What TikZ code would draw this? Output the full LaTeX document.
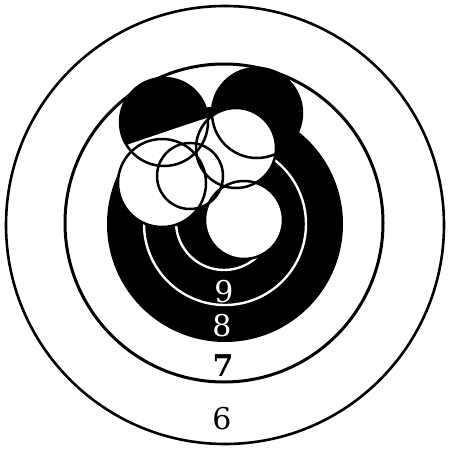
\documentclass[tikz,border=0pt]{standalone}
\usepackage{fontspec}
\setmainfont{DejaVu Serif}
\begin{document}
\begin{tikzpicture}[x=1pt,y=-1pt,
  ringline/.style={line width=2.6pt},
  holeline/.style={line width=2.5pt},
  whiteline/.style={draw=white,line width=2.4pt},
  numlab/.style={font=\fontsize{30}{32}\selectfont, inner sep=0pt}]
\useasboundingbox (0,0) rectangle (450,450);
\fill[white] (0,0) rectangle (450,450);
% rings
\draw[ringline] (225,225) circle[radius=219pt];
\draw[line width=3pt] (224,223) circle[radius=159pt];
\fill[black] (225,224) circle[radius=118pt];
\draw[whiteline] (225,224) circle[radius=81pt];
\draw[whiteline] (224,222) circle[radius=48pt];
% blob A (upper left hole in white ring)
\begin{scope}
  \clip (164,122) circle[radius=44pt];
  \fill[black] (100,60) rectangle (230,180);
  \fill[white] (112,150) .. controls (150,137) and (182,126) .. (210,117) -- (218,180) -- (110,180) -- cycle;
\end{scope}
% blob D (upper right hole)
\fill[black] (257,113) circle[radius=45pt];
% white holes
\fill[white] (162,183) circle[radius=44pt];
\fill[white] (190,176) circle[radius=33pt];
\fill[white] (236,148) circle[radius=40pt];
\fill[white] (244,220) circle[radius=39pt];
% hole outlines
\draw[holeline] (164,122) circle[radius=44pt];
\draw[holeline] (257,113) circle[radius=45pt];
\draw[holeline] (162,183) circle[radius=44pt];
\draw[holeline] (190,176) circle[radius=33pt];
\draw[holeline] (236,148) circle[radius=40pt];
\draw[holeline] (244,220) circle[radius=39pt];
% labels
\node[numlab, text=white] (n9) at (224,292) {9};
\node[numlab, text=white] (n8) at (222,326) {8};
\node[numlab, font=\fontsize{30}{32}\selectfont\bfseries] (n7) at (223,366) {7};
\node[numlab] (n6) at (222,419) {6};
\end{tikzpicture}
\end{document}
